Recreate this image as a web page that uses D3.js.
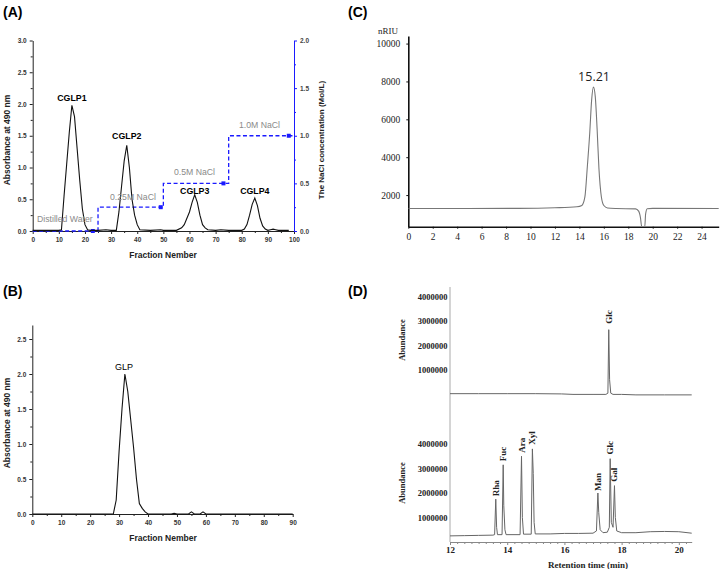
<!DOCTYPE html>
<html><head><meta charset="utf-8">
<script src="https://cdn.jsdelivr.net/npm/d3@7"></script>
<style>body{margin:0;background:#fff}svg{display:block}</style>
</head><body><svg id="c" width="720" height="569"></svg>
<script>
// ---------- DATA ----------
// Panel A: DEAE elution profile
const fracA = [0,5,10,11,12,13,14,15,16,17,18,19,20,21,22,25,28,30,32,33,34,35,36,37,38,39,40,41,45,49,50,55,57,58,60,61,62,63,64,65,66,67,70,72,75,80,81,82,83,84,85,86,87,88,89,90,91,92,93,94,98];
const absA  = [0.01,0.01,0.01,0.02,0.55,1.05,1.55,1.98,1.8,1.3,0.8,0.35,0.1,0.02,0.01,0.01,0.02,0.01,0.01,0.3,0.7,1.1,1.35,1.0,0.5,0.25,0.1,0.02,0.01,0.02,0.01,0.01,0.05,0.1,0.3,0.45,0.57,0.45,0.25,0.1,0.05,0.02,0.01,0.02,0.01,0.01,0.03,0.1,0.25,0.42,0.52,0.4,0.2,0.08,0.03,0.01,0.02,0.03,0.02,0.01,0.01];
const naclFrac = [0,25,50,75,100];
const naclConc = [0,0.25,0.5,1.0,1.0];
const naclMarkFrac = [23,49,73,98];
const naclLabels = ["Distilled Water","0.25M NaCl","0.5M NaCl","1.0M NaCl"];
const peakNamesA = ["CGLP1","CGLP2","CGLP3","CGLP4"];
const peakFracA = [15,36,62,85];
const peakAbsA = [2.0,1.35,0.57,0.52];
// Panel B: Sephadex profile
const fracB = [0,10,20,27,28,29,30,31,32,33,34,35,36,37,38,39,40,48,49,50,54,55,56,58,59,60,70,80,90];
const absB  = [0,0,0,0,0,0.2,0.9,1.5,2.0,1.75,1.35,0.95,0.5,0.15,0.08,0.03,0,0,0.01,0,0,0.03,0,0,0.03,0,0,0,0];
// Panel C: HPGPC
const timeC = [0,9,12,13.8,14.2,14.45,14.65,14.85,15.0,15.15,15.3,15.45,15.6,15.8,16.0,16.3,17,18.6,18.85,19.0,19.1,19.35,19.42,19.55,20,25.4];
const riuC  = [1290,1300,1330,1380,1450,1900,3500,5300,7000,7700,7200,5500,3400,1900,1450,1320,1290,1270,1150,800,330,330,1000,1280,1300,1290];
// Panel D: GC monosaccharides (abundance in millions)
const timeDtop = [12,13,14,15,15.9,16.3,17.0,17.45,17.52,17.55,17.58,17.62,17.7,18.0,18.5,19.5,20.45];
const abuDtop  = [0.03,0.03,0.03,0.03,0.02,0.0,0.0,0.0,0.05,2.65,0.6,0.05,0.0,0.0,-0.02,-0.02,-0.02];
const timeDbot = [12,12.5,13,13.5,13.56,13.6,13.63,13.66,13.82,13.86,13.88,13.92,13.96,14.45,14.5,14.53,14.57,14.84,14.88,14.91,14.94,14.98,15.5,16,16.5,17,17.12,17.17,17.2,17.25,17.35,17.5,17.57,17.6,17.64,17.7,17.75,17.78,17.83,18,18.5,19,19.5,20,20.45];
const abuDbot  = [0.25,0.26,0.27,0.28,0.3,1.75,0.6,0.3,0.3,3.15,1.5,0.5,0.3,0.3,3.5,1.0,0.32,0.32,3.8,2.8,0.8,0.33,0.33,0.35,0.35,0.36,0.45,2.0,1.2,0.5,0.38,0.4,0.6,3.4,0.8,0.6,2.3,1.0,0.45,0.38,0.38,0.42,0.43,0.42,0.36];
const sugarNames = ["Rha","Fuc","Ara","Xyl","Man","Glc","Gal"];
const sugarTime  = [13.6,13.86,14.5,14.88,17.17,17.6,17.75];
const sugarAbu   = [1.75,3.15,3.5,3.8,2.0,3.4,2.3];

// ---------- DRAW ----------
const svg = d3.select("#c");
const SANS = "'Liberation Sans', Arial, sans-serif";
const SERIF = "'Liberation Serif', 'Times New Roman', serif";

function styleAxis(g, font, size, color, weight, lineColor){
  g.selectAll("text").attr("font-family", font).attr("font-size", size).attr("fill", color).attr("font-weight", weight||"normal");
  g.selectAll("path,line").attr("stroke", lineColor||"#000");
  g.attr("font-family", null).attr("font-size", null);
}
function label(t, x, y, opts){
  opts = opts||{};
  const e = svg.append("text").text(t).attr("x", x).attr("y", y)
    .attr("font-family", opts.font||SANS).attr("font-size", opts.size||9)
    .attr("font-weight", opts.weight||"normal").attr("fill", opts.color||"#000")
    .attr("text-anchor", opts.anchor||"middle");
  if (opts.rot) e.attr("transform", `rotate(${opts.rot},${x},${y})`).attr("dominant-baseline","central");
  return e;
}

// Panel letters
label("(A)", 3, 17, {size:14, weight:"bold", anchor:"start"});
label("(B)", 3, 296, {size:14, weight:"bold", anchor:"start"});
label("(C)", 348, 17, {size:14, weight:"bold", anchor:"start"});
label("(D)", 348, 296, {size:14, weight:"bold", anchor:"start"});

// ===== Panel A =====
const xA = d3.scaleLinear([0,100],[32.7,294]);
const yA = d3.scaleLinear([0,3],[231,40.5]);
const yA2 = d3.scaleLinear([0,2],[231,40.5]);
const gA = svg.append("g");
gA.append("g").attr("transform","translate(0,231)")
  .call(d3.axisBottom(xA).tickValues(d3.range(5,100,10)).tickSize(2).tickFormat("").tickSizeOuter(0))
  .call(g=>{g.select(".domain").remove(); g.selectAll("line").attr("stroke","#222");});
gA.append("g").attr("transform","translate(32.7,0)")
  .call(d3.axisLeft(yA).tickValues(d3.range(0.25,3,0.5)).tickSize(2).tickFormat("").tickSizeOuter(0))
  .call(g=>{g.select(".domain").remove(); g.selectAll("line").attr("stroke","#222");});
gA.append("g").attr("transform","translate(294,0)")
  .call(d3.axisRight(yA2).tickValues(d3.range(0.25,2,0.5)).tickSize(2).tickFormat("").tickSizeOuter(0))
  .call(g=>{g.select(".domain").remove(); g.selectAll("line").attr("stroke","#1a1aff");});
gA.append("g").attr("transform","translate(0,231)")
  .call(d3.axisBottom(xA).tickValues(d3.range(0,101,10)).tickSize(3).tickPadding(3).tickSizeOuter(0))
  .call(g=>styleAxis(g, SANS, 6.5, "#333", "bold", "#222"));
gA.append("g").attr("transform","translate(32.7,0)")
  .call(d3.axisLeft(yA).tickValues(d3.range(0,3.01,0.5)).tickFormat(d3.format(".1f")).tickSize(3).tickPadding(3).tickSizeOuter(0))
  .call(g=>styleAxis(g, SANS, 6.5, "#333", "bold", "#222"));
gA.append("g").attr("transform","translate(294,0)")
  .call(d3.axisRight(yA2).tickValues(d3.range(0,2.01,0.5)).tickFormat(d3.format(".1f")).tickSize(3).tickPadding(3).tickSizeOuter(0))
  .call(g=>styleAxis(g, SANS, 6.5, "#444", "bold", "#1a1aff"));
const naclPts = naclFrac.map((f,i)=>[f,naclConc[i]]);
gA.append("path").datum(naclPts)
  .attr("d", d3.line().x(d=>xA(d[0])).y(d=>yA2(d[1])).curve(d3.curveStepAfter))
  .attr("fill","none").attr("stroke","#1a1aff").attr("stroke-width",1.3).attr("stroke-dasharray","4,2.5");
gA.selectAll("rect.mk").data(naclMarkFrac).join("rect")
  .attr("x",(d)=>xA(d)-2).attr("y",(d,i)=>yA2(naclConc[i])-2).attr("width",4).attr("height",4).attr("fill","#1a1aff");
const naclLabPos = [[37,222],[110,200],[174,175],[239,128]];
naclLabels.forEach((t,i)=>label(t, naclLabPos[i][0], naclLabPos[i][1], {size:8.7, color:"#8a8a8a", anchor:"start"}));
gA.append("path").datum(fracA.map((f,i)=>[f,absA[i]]))
  .attr("d", d3.line().x(d=>xA(d[0])).y(d=>yA(d[1])))
  .attr("fill","none").attr("stroke","#111").attr("stroke-width",1.1);
const peakLabY = [101, 139, 194, 194];
peakNamesA.forEach((t,i)=>label(t, xA(peakFracA[i]), peakLabY[i], {size:8.8, weight:"bold"}));
label("Fraction Nember", 163, 258, {size:8.5, weight:"bold", color:"#222"});
label("Absorbance at 490 nm", 7, 140, {size:8.5, weight:"bold", color:"#222", rot:-90});
label("The NaCl concentration (Mol/L)", 321, 140, {size:8, weight:"bold", color:"#222", rot:-90});

// ===== Panel B =====
const xB = d3.scaleLinear([0,90],[32.3,292.7]);
const yB = d3.scaleLinear([0,2.7],[514,325]);
const gB = svg.append("g");
gB.append("g").attr("transform","translate(0,514)")
  .call(d3.axisBottom(xB).tickValues(d3.range(5,90,10)).tickSize(2).tickFormat("").tickSizeOuter(0))
  .call(g=>{g.select(".domain").remove(); g.selectAll("line").attr("stroke","#222");});
gB.append("g").attr("transform","translate(32.3,0)")
  .call(d3.axisLeft(yB).tickValues(d3.range(0.25,2.7,0.5)).tickSize(2).tickFormat("").tickSizeOuter(0))
  .call(g=>{g.select(".domain").remove(); g.selectAll("line").attr("stroke","#222");});
gB.append("g").attr("transform","translate(0,514)")
  .call(d3.axisBottom(xB).tickValues(d3.range(0,91,10)).tickSize(3).tickPadding(3).tickSizeOuter(0))
  .call(g=>styleAxis(g, SANS, 6.5, "#333", "bold", "#222"));
gB.append("g").attr("transform","translate(32.3,0)")
  .call(d3.axisLeft(yB).tickValues(d3.range(0,2.51,0.5)).tickFormat(d3.format(".1f")).tickSize(3).tickPadding(3).tickSizeOuter(0))
  .call(g=>styleAxis(g, SANS, 6.5, "#333", "bold", "#222"));
gB.append("path").datum(fracB.map((f,i)=>[f,absB[i]]))
  .attr("d", d3.line().x(d=>xB(d[0])).y(d=>yB(d[1])))
  .attr("fill","none").attr("stroke","#111").attr("stroke-width",1.1);
label("GLP", xB(31.7), 370, {size:9});
label("Fraction Nember", 163, 541, {size:8.5, weight:"bold", color:"#222"});
label("Absorbance at 490 nm", 7, 423, {size:8.5, weight:"bold", color:"#222", rot:-90});

// ===== Panel C =====
const xC = d3.scaleLinear([0,25.4],[408.3,718.7]);
const yC = d3.scaleLinear([330,10400],[226.7,36]);
const gC = svg.append("g");
gC.append("g").attr("transform","translate(0,226.7)")
  .call(d3.axisBottom(xC).tickValues(d3.range(0,25,2)).tickFormat(d3.format("d")).tickSize(2).tickPadding(5).tickSizeOuter(0))
  .call(g=>styleAxis(g, SERIF, 9.5, "#222", "normal", "#111"))
  .call(g=>g.select(".domain").attr("stroke-width",1.6));
gC.append("g").attr("transform","translate(408.3,0)")
  .call(d3.axisLeft(yC).tickValues([2000,4000,6000,8000,10000]).tickFormat(d3.format("d")).tickSize(2).tickPadding(6).tickSizeOuter(0))
  .call(g=>styleAxis(g, SERIF, 9.5, "#222", "normal", "#111"))
  .call(g=>g.select(".domain").attr("stroke-width",1.6));
svg.append("defs").append("clipPath").attr("id","clipC").append("rect")
  .attr("x",408.3).attr("y",30).attr("width",312).attr("height",196);
gC.append("path").datum(timeC.map((t,i)=>[t,riuC[i]]))
  .attr("clip-path","url(#clipC)")
  .attr("d", d3.line().x(d=>xC(d[0])).y(d=>yC(d[1])).curve(d3.curveMonotoneX))
  .attr("fill","none").attr("stroke","#777").attr("stroke-width",1.1);
label("nRIU", 388, 34, {size:9, font:SERIF, color:"#222"});
label("15.21", xC(15.2), 81, {size:12.5, font:"'Open Sans', sans-serif", color:"#222"});

// ===== Panel D =====
const xD = d3.scaleLinear([12,20.45],[450,691.7]);
const yDt = d3.scaleLinear([0,4],[394.4,296.7]);
const yDb = d3.scaleLinear([0,4],[542,444]);
const gD = svg.append("g");
gD.append("line").attr("x1",450).attr("x2",450).attr("y1",287).attr("y2",542).attr("stroke","#aaa").attr("stroke-width",1);
gD.append("g").attr("transform","translate(450,0)")
  .call(d3.axisLeft(yDt).tickValues([1,2,3,4]).tickFormat(d=>d3.format("d")(d*1e6)).tickSize(0).tickPadding(2.5))
  .call(g=>{g.select(".domain").remove(); styleAxis(g, SERIF, 8.5, "#222", "bold");});
gD.append("g").attr("transform","translate(450,0)")
  .call(d3.axisLeft(yDb).tickValues([1,2,3,4]).tickFormat(d=>d3.format("d")(d*1e6)).tickSize(0).tickPadding(2.5))
  .call(g=>{g.select(".domain").remove(); styleAxis(g, SERIF, 8.5, "#222", "bold");});
gD.append("g").attr("transform","translate(0,542)")
  .call(d3.axisBottom(xD).tickValues(d3.range(12.25,20.45,0.25).filter(v=>v%2!==0)).tickSize(2).tickFormat("").tickSizeOuter(0))
  .call(g=>{g.select(".domain").remove(); g.selectAll("line").attr("stroke","#888");});
gD.append("g").attr("transform","translate(0,542)")
  .call(d3.axisBottom(xD).tickValues([12,14,16,18,20]).tickSize(3).tickPadding(2).tickSizeOuter(0))
  .call(g=>styleAxis(g, SERIF, 9, "#222", "bold", "#888"));
gD.append("path").datum(timeDtop.map((t,i)=>[t,abuDtop[i]]))
  .attr("d", d3.line().x(d=>xD(d[0])).y(d=>yDt(d[1])))
  .attr("fill","none").attr("stroke","#666").attr("stroke-width",1);
gD.append("path").datum(timeDbot.map((t,i)=>[t,abuDbot[i]]))
  .attr("d", d3.line().x(d=>xD(d[0])).y(d=>yDb(d[1])))
  .attr("fill","none").attr("stroke","#666").attr("stroke-width",1);
label("Glc", xD(17.57), 317, {size:9, font:SERIF, weight:"bold", rot:-90, color:"#222"});
sugarNames.forEach((n,i)=>{
  const tw = n.length*4.6;
  label(n, xD(sugarTime[i]), yDb(sugarAbu[i]) - 4 - tw/2, {size:9, font:SERIF, weight:"bold", rot:-90, color:"#222"});
});
label("Abundance", 402, 340, {size:8.5, font:SERIF, weight:"bold", rot:-90, color:"#222"});
label("Abundance", 402, 483, {size:8.5, font:SERIF, weight:"bold", rot:-90, color:"#222"});
label("Retention time (min)", 588, 568, {size:9, font:SERIF, weight:"bold", color:"#222"});
</script></body></html>
